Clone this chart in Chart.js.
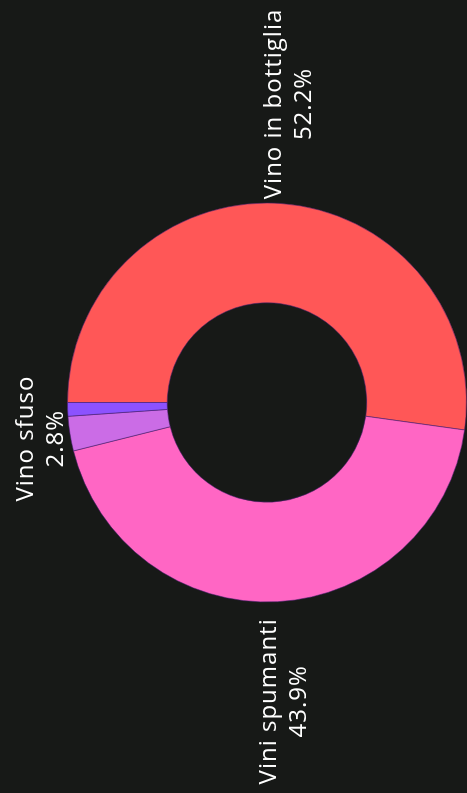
<!DOCTYPE html>
<html>
<head>
<meta charset="utf-8">
<script src="https://cdn.jsdelivr.net/npm/chart.js@4/dist/chart.umd.min.js"></script>
<style>
  html, body { margin: 0; padding: 0; background: #171917; overflow: hidden; }
  body { width: 467px; height: 793px; position: relative; }
  #wrap {
    position: absolute; left: 0; top: 0;
    width: 793px; height: 467px;
    transform-origin: 0 0;
    transform: translate(0, 793px) rotate(-90deg);
  }
</style>
</head>
<body>
<div id="wrap"><canvas id="c" width="793" height="467"></canvas></div>
<script>
const categories = ["Vino in bottiglia", "Vini spumanti", "Vino sfuso", "Altro"];
const values = [52.2, 43.9, 2.8, 1.1];
const sliceColors = ["#FF5757", "#FF66C4", "#CB6CE6", "#8C52FF"];
const minLabelPct = 2;

const FONT = '24px "Open Sans"';

const outsideLabels = {
  id: 'outsideLabels',
  afterDatasetsDraw(chart) {
    const ctx = chart.ctx;
    const meta = chart.getDatasetMeta(0);
    const W = chart.width, H = chart.height;
    const lineGap = 30;
    const margin = 24;
    ctx.save();
    ctx.font = FONT;
    try { ctx.letterSpacing = '1px'; } catch (e) {}
    ctx.fillStyle = '#ffffff';
    ctx.textAlign = 'center';
    ctx.textBaseline = 'alphabetic';
    meta.data.forEach((arc, i) => {
      const v = values[i];
      if (v < minLabelPct) return;
      const p = arc.getProps(['x', 'y', 'startAngle', 'endAngle', 'outerRadius'], true);
      const mid = (p.startAngle + p.endAngle) / 2;
      const c = Math.cos(mid), s = Math.sin(mid);
      let t = p.outerRadius * 1.5;
      let cy = p.y + t * s;
      const minC = margin + lineGap / 2;
      const maxC = H - margin - lineGap / 2;
      if (cy < minC && s < 0) { t = (minC - p.y) / s; }
      if (cy > maxC && s > 0) { t = (maxC - p.y) / s; }
      const cx = p.x + t * c;
      cy = p.y + t * s;
      ctx.fillText(categories[i], cx, cy - lineGap / 2 + 8.5);
      ctx.fillText(v.toFixed(1) + '%', cx, cy + lineGap / 2 + 8.5);
    });
    ctx.restore();
  }
};

new Chart(document.getElementById('c'), {
  type: 'doughnut',
  data: {
    labels: categories,
    datasets: [{
      data: values,
      backgroundColor: sliceColors,
      borderColor: 'rgba(70,30,110,0.55)',
      borderWidth: 1
    }]
  },
  options: {
    responsive: false,
    animation: false,
    cutout: '50%',
    layout: { padding: { top: 67, bottom: 0, left: 0, right: 12 } },
    plugins: {
      legend: { display: false },
      tooltip: { enabled: false }
    }
  },
  plugins: [outsideLabels]
});
</script>
</body>
</html>
